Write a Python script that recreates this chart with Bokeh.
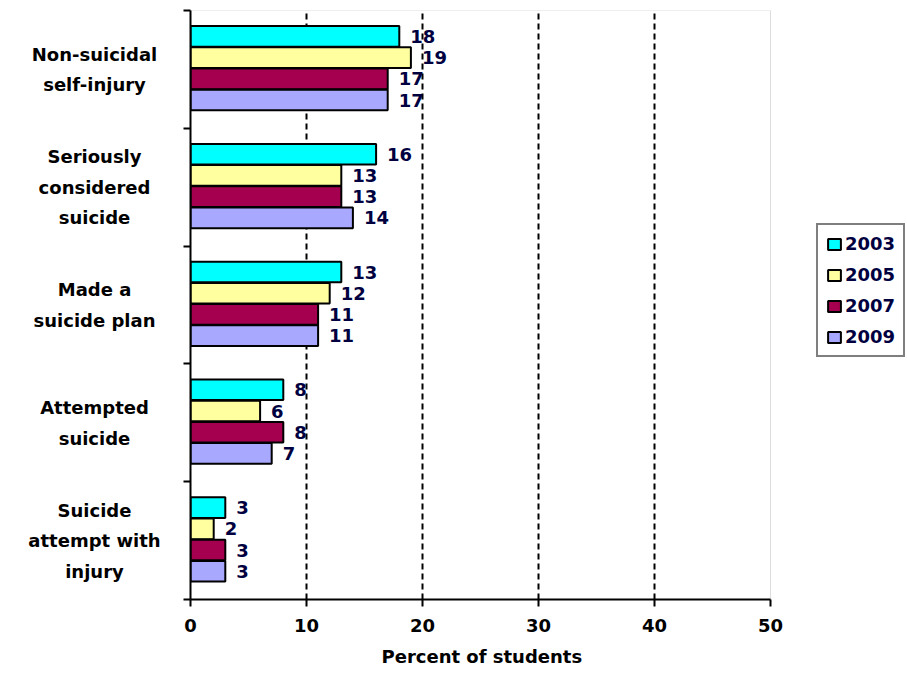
from bokeh.plotting import figure
from bokeh.layouts import row
from bokeh.models import (ColumnDataSource, Range1d, FixedTicker, Legend, LegendItem,
                          BoxAnnotation, Title)
from bokeh.transform import dodge
from bokeh.core.properties import value
from bokeh.embed import file_html
from bokeh.resources import INLINE

# ---- data ----
categories = ["Non-suicidal\nself-injury", "Seriously\nconsidered\nsuicide",
              "Made a\nsuicide plan", "Attempted\nsuicide",
              "Suicide\nattempt with\ninjury"]
years = ["2003", "2005", "2007", "2009"]
v2003 = [18, 16, 13, 8, 3]
v2005 = [19, 13, 12, 6, 2]
v2007 = [17, 13, 11, 8, 3]
v2009 = [17, 14, 11, 7, 3]
x_ticks = [0, 10, 20, 30, 40, 50]
x_title = "Percent of students"

series = [v2003, v2005, v2007, v2009]
colors = ["#00FFFF", "#FFFFA0", "#A5004F", "#A8A8FF"]
offsets = [0.28, 0.10, -0.08, -0.26]

n = len(categories)
centers = [n - 0.5 - i for i in range(n)]
yr = Range1d(0, n)

FONT = value("DejaVu Sans")
W, H = 907, 675
LABW = 180
FRAME_L = 190          # left edge of the plotting area
AXIS_R = 770           # pixel where the axis ends (value 50)
XMAX = 50 * (W - FRAME_L) / (AXIS_R - FRAME_L)   # frame runs to the page edge

# ---- category label column (shares the y scale) ----
lab = figure(width=LABW, height=H, output_backend="svg", toolbar_location=None,
             x_range=Range1d(0, LABW), y_range=yr, x_axis_type=None, y_axis_type=None,
             min_border_left=0, min_border_right=0, min_border_top=10, min_border_bottom=75)
lab.outline_line_color = None
lab.grid.visible = False
lab.border_fill_color = "white"
lab.text(x=[94] * n, y=centers, text=categories, text_align="center",
         text_baseline="middle", text_font=FONT, text_font_style="bold",
         text_font_size="18px", text_color="black", text_line_height=1.45)

# ---- main chart ----
p = figure(width=W - LABW, height=H, output_backend="svg", toolbar_location=None,
           x_range=Range1d(0, XMAX), y_range=yr,
           min_border_left=FRAME_L - LABW, min_border_right=0,
           min_border_top=10, min_border_bottom=75)
p.background_fill_color = "white"
p.border_fill_color = "white"
p.outline_line_color = None

# plot-area border (top and right, gray)
p.add_layout(BoxAnnotation(left=0, right=50, bottom=0, top=n, fill_alpha=0,
                           line_color="#8C8C8C", line_width=1, level="underlay"))

items = []
for y_, vals, col, off in zip(years, series, colors, offsets):
    src = ColumnDataSource(dict(y=centers, v=vals, t=[str(v) for v in vals]))
    r = p.hbar(y=dodge("y", off), right="v", left=0, height=0.175, source=src,
               fill_color=col, line_color="black", line_width=2)
    p.text(x="v", y=dodge("y", off), text="t", source=src, x_offset=11,
           text_align="left", text_baseline="middle", text_font=FONT,
           text_font_style="bold", text_font_size="18px", text_color="#000040")
    items.append(LegendItem(label=y_, renderers=[r]))

# x axis
xa = p.xaxis[0]
xa.bounds = (0, 50)
xa.ticker = FixedTicker(ticks=x_ticks)
xa.axis_line_width = 2
xa.axis_line_color = "black"
xa.major_tick_in = 0
xa.major_tick_out = 7
xa.major_tick_line_width = 2
xa.minor_tick_line_color = None
xa.major_label_text_font = "DejaVu Sans"
xa.major_label_text_font_style = "bold"
xa.major_label_text_font_size = "18px"
xa.major_label_text_color = "black"
xa.major_label_standoff = 12

# axis title, centred under the 0-50 axis
p.add_layout(Title(text=x_title, align="left", offset=381 - FRAME_L,
                   text_font="DejaVu Sans", text_font_style="bold",
                   text_font_size="18px", text_color="black",
                   vertical_align="bottom", standoff=18), "below")

# y axis: boundary ticks only (labels drawn in the left column)
ya = p.yaxis[0]
ya.ticker = FixedTicker(ticks=[], minor_ticks=list(range(n + 1)))
ya.axis_line_width = 2
ya.axis_line_color = "black"
ya.major_tick_line_color = None
ya.minor_tick_in = 0
ya.minor_tick_out = 7
ya.minor_tick_line_width = 2
ya.minor_tick_line_color = "black"
ya.major_label_standoff = 0
ya.major_label_text_font_size = "0px"

# grids
p.ygrid.visible = False
p.xgrid.ticker = FixedTicker(ticks=[10, 20, 30, 40])
p.xgrid.grid_line_color = "black"
p.xgrid.grid_line_width = 2
p.xgrid.grid_line_dash = "6 4"

legend = Legend(items=items, location=(816 - FRAME_L, 242))
legend.border_line_color = "black"
legend.border_line_width = 2
legend.label_text_font = "DejaVu Sans"
legend.label_text_font_style = "bold"
legend.label_text_font_size = "18px"
legend.label_text_color = "#000040"
legend.glyph_width = 16
legend.glyph_height = 14
legend.label_height = 20
legend.spacing = 10
legend.padding = 8
legend.margin = 0
legend.label_standoff = 3
legend.background_fill_alpha = 1
p.add_layout(legend, "center")

layout = row(lab, p, spacing=0)
open("out.html", "w").write(file_html(layout, INLINE))
